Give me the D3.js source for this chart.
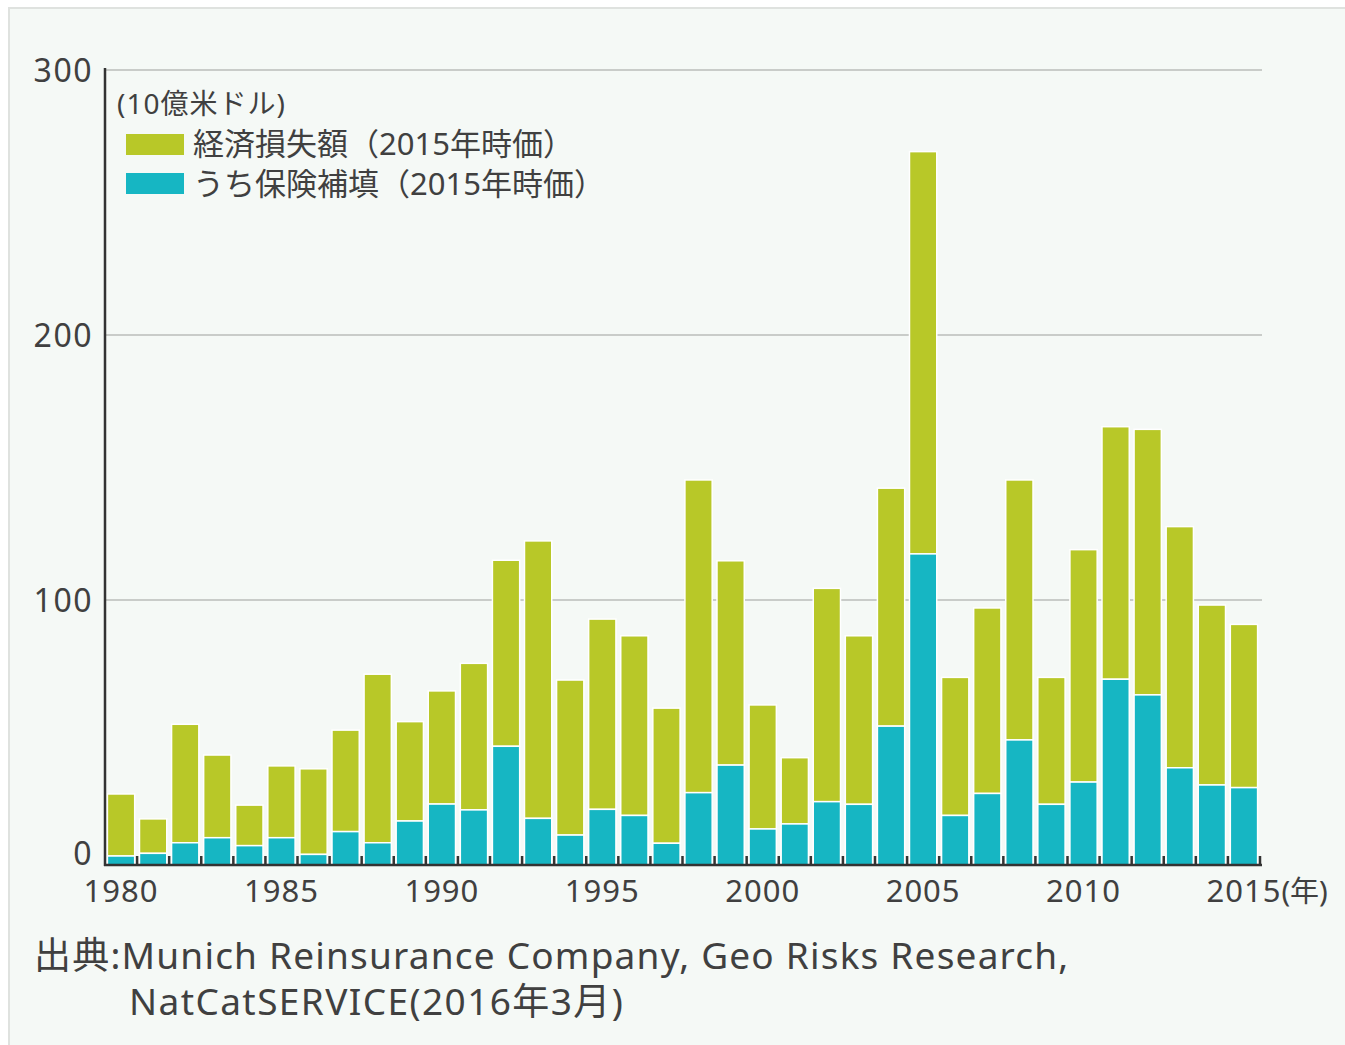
<!DOCTYPE html>
<html>
<head>
<meta charset="utf-8">
<script src="https://cdn.jsdelivr.net/npm/d3@7"></script>
<style>
    html, body { margin: 0; padding: 0; background: #fff; }
    svg text { font-family: "Noto Sans", "Noto Sans CJK JP", sans-serif; fill: #404040; }
</style>
</head>
<body>
<svg id="chart" width="1345" height="1045"></svg>
<script>
// values in 10億米ドル
const YEARS = d3.range(1980, 2016);
const TOTAL_LOSS = [
    26.8, 17.4, 53.1, 41.5, 22.6, 37.4, 36.3, 50.9, 72, 54.1, 65.7, 76.1,
    115, 122.3, 69.8, 92.8, 86.5, 59.2, 145.3, 114.8, 60.4, 40.5, 104.4, 86.5,
    142.2, 269.2, 70.8, 97, 145.3, 70.8, 119, 165.4, 164.4, 127.7, 98.1, 90.8
];
const INSURED_LOSS = [
    3.4, 4.4, 8.4, 10.3, 7.3, 10.3, 4, 12.6, 8.4, 16.6, 23, 20.8,
    44.8, 17.6, 11.3, 21, 18.7, 8.2, 27.3, 37.7, 13.6, 15.5, 23.9, 22.9,
    52.4, 117.4, 18.7, 27, 47.2, 22.9, 31.3, 70.1, 64.2, 36.7, 30.2, 29.2
];
const Y_TICKS = [0, 100, 200, 300];
const X_LABELS = [1980, 1985, 1990, 1995, 2000, 2005, 2010, 2015];
const LEGEND = ['経済損失額（2015年時価）', 'うち保険補填（2015年時価）'];
const UNIT = '(10億米ドル)';
const SOURCE = ['出典:Munich Reinsurance Company, Geo Risks Research,', 'NatCatSERVICE(2016年3月)'];

const GREEN = '#b8c828';
const TEAL = '#16b6c3';

const svg = d3.select('#chart');

// panel background
svg.append('rect')
    .attr('x', 9).attr('y', 8)
    .attr('width', 1345).attr('height', 1045)
    .attr('fill', '#f5f9f6')
    .attr('stroke', '#dfe2df')
    .attr('stroke-width', 2);

const M = {left: 105, right: 1260, top: 70, bottom: 865};

const x = d3.scaleBand()
    .domain(YEARS)
    .range([M.left, M.right])
    .paddingInner(0.15)
    .paddingOuter(0.075);
const y = d3.scaleLinear()
    .domain([0, 300])
    .range([M.bottom, M.top]);

// grid lines
svg.append('g')
    .selectAll('line')
    .data(Y_TICKS.filter(d => d > 0))
    .join('line')
    .attr('x1', M.left).attr('x2', M.right + 2)
    .attr('y1', d => y(d)).attr('y2', d => y(d))
    .attr('stroke', '#c9ccc9')
    .attr('stroke-width', 2);

// stacked bars
const bars = svg.append('g');
bars.selectAll('rect.total')
    .data(YEARS)
    .join('rect')
    .attr('class', 'total')
    .attr('x', d => x(d))
    .attr('width', x.bandwidth())
    .attr('y', (d, i) => y(TOTAL_LOSS[i]))
    .attr('height', (d, i) => y(INSURED_LOSS[i]) - y(TOTAL_LOSS[i]))
    .attr('fill', GREEN)
    .attr('stroke', '#fff')
    .attr('stroke-width', 1.5);
bars.selectAll('rect.insured')
    .data(YEARS)
    .join('rect')
    .attr('class', 'insured')
    .attr('x', d => x(d))
    .attr('width', x.bandwidth())
    .attr('y', (d, i) => y(INSURED_LOSS[i]))
    .attr('height', (d, i) => y(0) - y(INSURED_LOSS[i]))
    .attr('fill', TEAL)
    .attr('stroke', '#fff')
    .attr('stroke-width', 1.5);

// axes
const step = x.step();
svg.append('g')
    .selectAll('line')
    .data(d3.range(1, YEARS.length + 1))
    .join('line')
    .attr('x1', k => M.left + k * step).attr('x2', k => M.left + k * step)
    .attr('y1', M.bottom).attr('y2', M.bottom - 9)
    .attr('stroke', '#333')
    .attr('stroke-width', 2.5);
svg.append('line')
    .attr('x1', M.left).attr('x2', M.left)
    .attr('y1', M.top - 2).attr('y2', M.bottom + 1)
    .attr('stroke', '#333').attr('stroke-width', 2.5);
svg.append('line')
    .attr('x1', M.left - 1).attr('x2', M.right + 2)
    .attr('y1', M.bottom).attr('y2', M.bottom)
    .attr('stroke', '#333').attr('stroke-width', 2.5);

// y labels (the 0 sits a little above the axis in the original)
svg.append('g')
    .selectAll('text')
    .data(Y_TICKS)
    .join('text')
    .attr('x', 93)
    .attr('y', d => (d === 0 ? y(d) - 12 : y(d)) + 12)
    .attr('text-anchor', 'end')
    .attr('font-size', 32)
    .attr('letter-spacing', 1.5)
    .text(d => d);

// x labels
const xl = svg.append('g');
xl.selectAll('text')
    .data(X_LABELS)
    .join('text')
    .attr('x', d => x(d) + x.bandwidth() / 2)
    .attr('y', 902)
    .attr('text-anchor', 'middle')
    .attr('font-size', 31)
    .attr('letter-spacing', 1)
    .text(d => d);
const lastNode = xl.selectAll('text').nodes().pop();
const lb = lastNode.getBBox();
xl.append('text')
    .attr('x', lb.x + lb.width)
    .attr('y', 902)
    .attr('font-size', 29)
    .text('(年)');

// legend
svg.append('text')
    .attr('x', 117).attr('y', 114)
    .attr('font-size', 28)
    .attr('letter-spacing', 1)
    .text(UNIT);
const lg = svg.append('g');
LEGEND.forEach((name, i) => {
    lg.append('rect')
        .attr('x', 126).attr('y', 134 + i * 39)
        .attr('width', 58).attr('height', 21)
        .attr('fill', i === 0 ? GREEN : TEAL);
    lg.append('text')
        .attr('x', 193).attr('y', 155 + i * 40)
        .attr('font-size', 31)
        .text(name);
});

// source
svg.append('text')
    .attr('x', 34).attr('y', 969)
    .attr('font-size', 37)
    .attr('letter-spacing', 1.2)
    .text(SOURCE[0]);
svg.append('text')
    .attr('x', 129).attr('y', 1015)
    .attr('font-size', 37)
    .attr('letter-spacing', 1.4)
    .text(SOURCE[1]);
</script>
</body>
</html>
